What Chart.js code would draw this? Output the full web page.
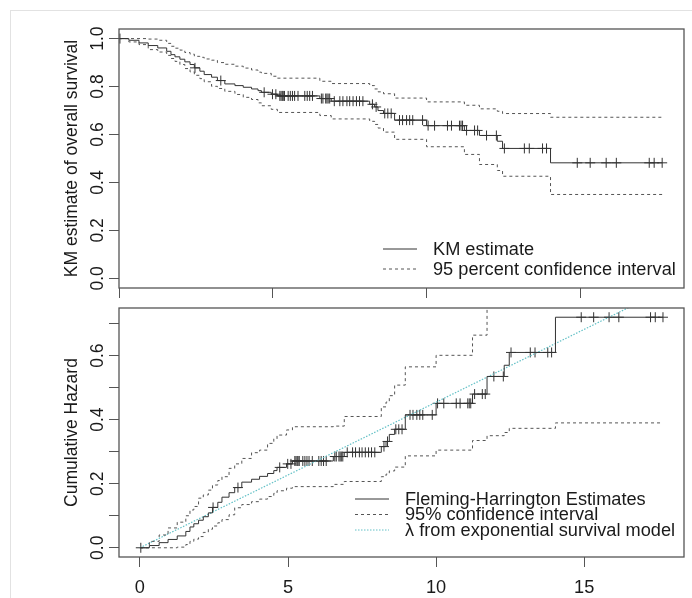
<!DOCTYPE html>
<html>
<head>
<meta charset="utf-8">
<script src="https://cdn.jsdelivr.net/npm/chart.js@4.4.1/dist/chart.umd.min.js"></script>
<style>
  body { margin: 0; background: #fff; }
  #wrap { position: relative; width: 692px; height: 598px; overflow: hidden; }
  #frame { position: absolute; left: 10px; top: 10px; width: 700px; height: 600px;
           border-left: 1px solid #e2e2e2; border-top: 1px solid #e2e2e2; }
  .box { position: absolute; left: 0; width: 692px; }
</style>
</head>
<body>
<div id="wrap">
  <div id="frame"></div>
  <div class="box" style="top:0;height:300px"><canvas id="kmChart"></canvas></div>
  <div class="box" style="top:300px;height:298px"><canvas id="hazChart"></canvas></div>
</div>
<script>
// tempos dos eventos (anos) e estimativas
const eventTimes = [0, 0.32, 0.65, 0.95, 1.26, 1.55, 1.69, 1.82, 1.98, 2.14, 2.31, 2.45, 2.63, 2.77, 3.01, 3.2, 3.44, 3.77, 4.04, 4.31, 4.52, 4.63, 4.95, 5.15, 6.53, 6.9, 8.15, 8.31, 8.42, 8.6, 8.96, 10.0, 11.23, 11.72, 12.3, 12.47, 14.03];
const kmSurv  = [1, 0.993, 0.982, 0.971, 0.961, 0.947, 0.933, 0.924, 0.914, 0.903, 0.892, 0.878, 0.864, 0.85, 0.839, 0.825, 0.811, 0.804, 0.797, 0.79, 0.783, 0.776, 0.768, 0.761, 0.75, 0.739, 0.726, 0.715, 0.70, 0.688, 0.66, 0.637, 0.617, 0.596, 0.572, 0.542, 0.482];
const kmUpper = [1, 1, 1, 0.998, 0.993, 0.98, 0.968, 0.96, 0.952, 0.942, 0.935, 0.926, 0.922, 0.915, 0.91, 0.9, 0.893, 0.885, 0.877, 0.869, 0.86, 0.855, 0.843, 0.835, 0.822, 0.8125, 0.804, 0.79, 0.778, 0.77, 0.752, 0.736, 0.722, 0.707, 0.697, 0.6875, 0.672];
const kmLower = [1, 0.986, 0.975, 0.954, 0.944, 0.93, 0.917, 0.905, 0.892, 0.875, 0.861, 0.847, 0.833, 0.82, 0.801, 0.792, 0.78, 0.767, 0.755, 0.746, 0.732, 0.72, 0.705, 0.692, 0.679, 0.665, 0.655, 0.642, 0.627, 0.61, 0.58, 0.549, 0.517, 0.475, 0.45, 0.426, 0.35];

const fhHazard = [0, 0.007, 0.016, 0.026, 0.037, 0.051, 0.065, 0.075, 0.086, 0.097, 0.109, 0.126, 0.142, 0.158, 0.172, 0.188, 0.205, 0.214, 0.223, 0.232, 0.241, 0.251, 0.262, 0.271, 0.285, 0.298, 0.316, 0.332, 0.354, 0.37, 0.415, 0.451, 0.48, 0.535, 0.57, 0.61, 0.72];
const fhUpper  = [0, 0.02, 0.04, 0.062, 0.08, 0.1, 0.118, 0.129, 0.155, 0.165, 0.18, 0.196, 0.21, 0.222, 0.248, 0.262, 0.279, 0.297, 0.305, 0.326, 0.34, 0.352, 0.368, 0.378, 0.38, 0.41, 0.44, 0.455, 0.475, 0.508, 0.565, 0.601, 0.664, 0.76, 0.81, 0.86, 1.05];
const fhLower  = [0, 0, 0, 0, 0.002, 0.01, 0.02, 0.027, 0.035, 0.048, 0.058, 0.068, 0.078, 0.088, 0.103, 0.125, 0.135, 0.144, 0.152, 0.16, 0.17, 0.178, 0.186, 0.191, 0.198, 0.207, 0.222, 0.23, 0.24, 0.252, 0.287, 0.305, 0.335, 0.35, 0.36, 0.373, 0.39];

// observações censuradas (marcas "+")
const censorTimes = [0.03, 2.47, 3.31, 4.72, 4.99, 5.10, 5.23, 5.27, 5.31, 5.34, 5.38, 5.50, 5.57, 5.64, 5.71, 5.82, 6.04, 6.12, 6.20, 6.29, 6.58, 6.63, 6.72, 6.76, 6.80, 6.85, 7.0, 7.18, 7.28, 7.41, 7.50, 7.61, 7.72, 7.82, 7.93, 8.24, 8.36, 8.64, 8.74, 8.85, 9.12, 9.22, 9.35, 9.45, 9.55, 9.87, 10.05, 10.26, 10.68, 10.81, 11.07, 11.12, 11.17, 11.3, 11.56, 11.66, 11.95, 12.27, 12.53, 13.18, 13.34, 13.77, 13.9, 14.9, 15.32, 15.84, 16.17, 17.24, 17.4, 17.66];
const lastTime = 17.66;

// reta do modelo exponencial (extremos)
const expTimes  = [0, 17.66];
const expHazard = [0, 0.803];

const timeTicks  = [0, 5, 10, 15];
const timeLabels = ['0', '5', '10', '15'];
const survTicks  = [0, 0.2, 0.4, 0.6, 0.8, 1.0];
const survLabels = ['0.0', '0.2', '0.4', '0.6', '0.8', '1.0'];
const hazTicks   = [0, 0.1, 0.2, 0.3, 0.4, 0.5, 0.6, 0.7];
const hazLabels  = ['0.0', '', '0.2', '', '0.4', '', '0.6', ''];

const FONT = '17.5px "Liberation Sans", Arial, sans-serif';
const SX = 1.04; // a imagem original está levemente esticada na horizontal

// pontos da função escada, prolongada até o último tempo
function stepPoints(times, values) {
    const pts = times.map((t, i) => ({ x: t, y: values[i] }));
    pts.push({ x: lastTime, y: values[values.length - 1] });
    return pts;
}

// valor da escada no tempo t (para posicionar as marcas de censura)
function valueAt(times, values, t) {
    let v = values[0];
    for (let i = 0; i < times.length; i++) {
        if (times[i] <= t) v = values[i];
    }
    return v;
}

function censorPoints(values) {
    return censorTimes.map(t => ({ x: t, y: valueAt(eventTimes, values, t) }));
}

function txt(ctx, s, x, y, rotated, align) {
    ctx.save();
    ctx.translate(x, y);
    ctx.scale(SX, 1);
    if (rotated) ctx.rotate(-Math.PI / 2);
    ctx.textAlign = align || 'center';
    ctx.textBaseline = 'middle';
    ctx.fillText(s, 0, 0);
    ctx.restore();
}

// plugin: caixa do gráfico, rótulos girados, título do eixo e legenda no estilo do R
function rStyle(cfg) {
    return {
        id: 'rStyle',
        afterDatasetsDraw(chart) {
            const { ctx, chartArea: a, scales } = chart;
            ctx.save();
            ctx.strokeStyle = '#555';
            ctx.lineWidth = 1.3;
            ctx.strokeRect(a.left, a.top, a.right - a.left, a.bottom - a.top);

            ctx.fillStyle = '#1a1a1a';
            ctx.font = FONT;
            cfg.yTicks.forEach((v, i) => {
                if (cfg.yLabels[i]) txt(ctx, cfg.yLabels[i], cfg.yLabelX, scales.y.getPixelForValue(v), true);
            });
            if (cfg.xLabels) {
                timeTicks.forEach((v, i) => txt(ctx, cfg.xLabels[i], scales.x.getPixelForValue(v), cfg.xLabelY, false));
            }
            txt(ctx, cfg.title, cfg.titleX, (a.top + a.bottom) / 2, true);

            cfg.legend.forEach((item, i) => {
                const y = cfg.legendY[i];
                ctx.beginPath();
                ctx.setLineDash(item.dash);
                ctx.strokeStyle = item.color;
                ctx.lineWidth = 1;
                ctx.moveTo(cfg.legendX, y);
                ctx.lineTo(cfg.legendX + 34, y);
                ctx.stroke();
                ctx.setLineDash([]);
                txt(ctx, item.text, cfg.legendX + 50, y + 1, false, 'left');
            });
            ctx.restore();
        }
    };
}

function axes(xMin, xMax, yMin, yMax, yTicks, xHeight) {
    const tickGrid = { drawOnChartArea: false, drawTicks: true, tickLength: 10, color: '#555', lineWidth: 1 };
    return {
        x: {
            type: 'linear', min: xMin, max: xMax,
            afterFit: s => { s.height = xHeight; },
            afterBuildTicks: s => { s.ticks = timeTicks.map(v => ({ value: v })); },
            ticks: { display: false },
            grid: tickGrid,
            border: { display: false }
        },
        y: {
            type: 'linear', min: yMin, max: yMax,
            afterFit: s => { s.width = 119; },
            afterBuildTicks: s => { s.ticks = yTicks.map(v => ({ value: v })); },
            ticks: { display: false },
            grid: tickGrid,
            border: { display: false }
        }
    };
}

const solid = { showLine: true, stepped: true, borderColor: '#333', borderWidth: 1, pointRadius: 0, fill: false };
const dashed = { showLine: true, stepped: true, borderColor: '#555', borderWidth: 1, borderDash: [3, 3], pointRadius: 0, fill: false };
const marks = { showLine: false, pointStyle: 'cross', pointRadius: 5, borderColor: '#333', borderWidth: 1 };

// painel de cima: Kaplan-Meier
new Chart(document.getElementById('kmChart'), {
    type: 'scatter',
    data: {
        datasets: [
            { ...solid, label: 'KM estimate', data: stepPoints(eventTimes, kmSurv) },
            { ...dashed, label: '95 percent confidence interval', data: stepPoints(eventTimes, kmUpper) },
            { ...dashed, data: stepPoints(eventTimes, kmLower) },
            { ...marks, data: censorPoints(kmSurv) }
        ]
    },
    options: {
        responsive: true, maintainAspectRatio: false, animation: false,
        layout: { padding: { top: 29, right: 8, left: 0, bottom: 0 } },
        plugins: { legend: { display: false }, tooltip: { enabled: false } },
        scales: axes(0, 18.37, -0.04, 1.04, survTicks, 12)
    },
    plugins: [rStyle({
        yTicks: survTicks, yLabels: survLabels, yLabelX: 98,
        title: 'KM estimate of overall survival', titleX: 72,
        legendX: 383, legendY: [249, 269],
        legend: [
            { text: 'KM estimate', dash: [], color: '#333' },
            { text: '95 percent confidence interval', dash: [3, 3], color: '#555' }
        ]
    })]
});

// painel de baixo: risco acumulado
new Chart(document.getElementById('hazChart'), {
    type: 'scatter',
    data: {
        datasets: [
            { ...solid, label: 'Fleming-Harrington Estimates', data: stepPoints(eventTimes, fhHazard) },
            { ...dashed, label: '95% confidence interval', data: stepPoints(eventTimes, fhUpper) },
            { ...dashed, data: stepPoints(eventTimes, fhLower) },
            { showLine: true, borderColor: '#62c0c6', borderWidth: 1.2, borderDash: [1.5, 1.5], pointRadius: 0,
              data: expTimes.map((t, i) => ({ x: t, y: expHazard[i] })) },
            { ...marks, data: censorPoints(fhHazard) }
        ]
    },
    options: {
        responsive: true, maintainAspectRatio: false, animation: false,
        layout: { padding: { top: 8, right: 8, left: 0, bottom: 0 } },
        plugins: { legend: { display: false }, tooltip: { enabled: false } },
        scales: axes(-0.706, 18.37, -0.0288, 0.7488, hazTicks, 41)
    },
    plugins: [rStyle({
        yTicks: hazTicks, yLabels: hazLabels, yLabelX: 98,
        xLabels: timeLabels, xLabelY: 288,
        title: 'Cumulative Hazard', titleX: 72,
        legendX: 355, legendY: [199, 214.5, 230],
        legend: [
            { text: 'Fleming-Harrington Estimates', dash: [], color: '#333' },
            { text: '95% confidence interval', dash: [3, 3], color: '#555' },
            { text: 'λ from exponential survival model', dash: [1.5, 1.5], color: '#62c0c6' }
        ]
    })]
});
</script>
</body>
</html>
